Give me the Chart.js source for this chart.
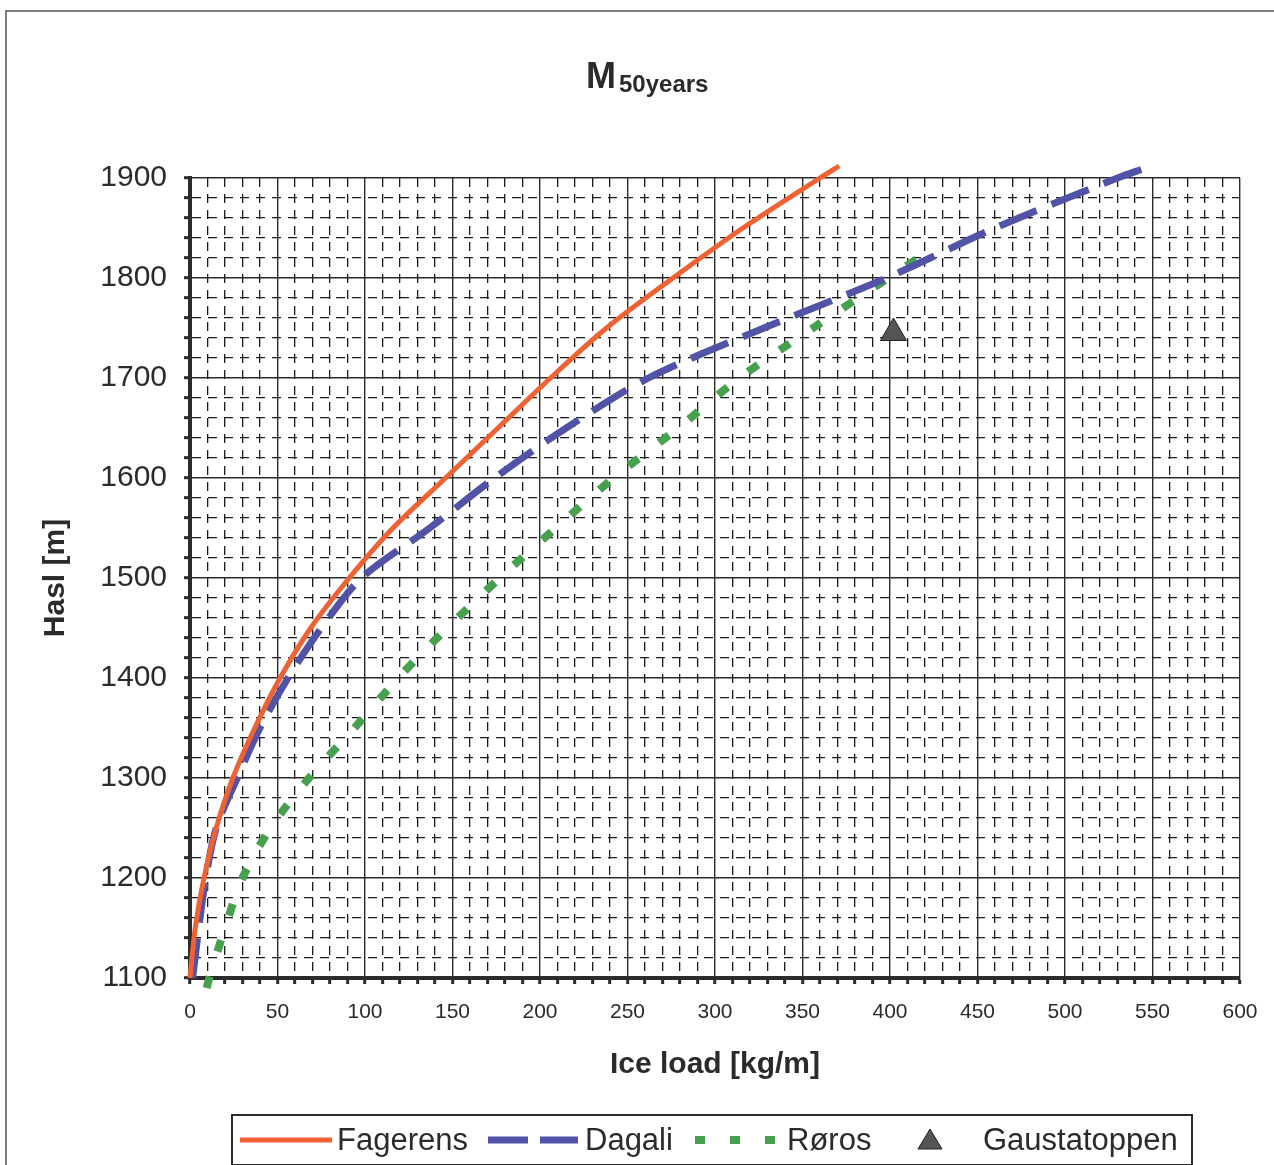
<!DOCTYPE html>
<html>
<head>
<meta charset="utf-8">
<title>M50years</title>
<script src="https://cdn.jsdelivr.net/npm/chart.js@4/dist/chart.umd.min.js"></script>
<style>
	html, body { margin: 0; padding: 0; background: #fff; }
	#wrap { width: 1274px; height: 1165px; }
</style>
</head>
<body>
<div id="wrap"><canvas id="chart" width="1274" height="1165"></canvas></div>
<script>
// values (ice load kg/m vs height m)
var haslFagerens = [1100, 1150, 1200, 1250, 1300, 1350, 1400, 1450, 1500, 1550, 1600, 1650, 1700, 1750, 1800, 1850, 1900, 1912];
var loadFagerens = [0, 3, 8, 15, 24.5, 37, 51.5, 69, 91, 116, 146, 176, 206, 238, 276, 316, 360, 371];

var haslDagali = [1100, 1150, 1200, 1250, 1300, 1350, 1400, 1450, 1500, 1550, 1600, 1650, 1700, 1750, 1800, 1850, 1900, 1910];
var loadDagali = [1.5, 5, 9, 15, 27, 40, 56, 75, 98, 137, 174, 215, 262, 328, 398, 460, 530, 546];

var haslRoros = [1090, 1100, 1150, 1200, 1250, 1300, 1350, 1400, 1450, 1500, 1550, 1600, 1650, 1700, 1750, 1800, 1821];
var loadRoros = [9.5, 11, 20, 30, 46, 68, 94, 119, 147, 177, 209, 242, 279, 314, 356, 399, 417];

var haslGausta = [1745];
var loadGausta = [402];

var xTicks = [0, 50, 100, 150, 200, 250, 300, 350, 400, 450, 500, 550, 600];
var yTicks = [1100, 1200, 1300, 1400, 1500, 1600, 1700, 1800, 1900];

var FONT = '"Liberation Sans", Arial, sans-serif';
var ORANGE = '#ee6234';
var BLUE = '#5252a6';
var GREEN = '#46a04e';
var INK = '#2b2b2b';

function toPoints(xs, ys) {
	var pts = [];
	for (var i = 0; i < xs.length; i++) {
		pts.push({ x: xs[i], y: ys[i] });
	}
	return pts;
}

function isMajor(ctx, step) {
	return ctx.tick && ctx.tick.value % step === 0;
}

// title, page frame and boxed legend are drawn by hand
var decorPlugin = {
	id: 'decor',
	afterDraw: function (chart) {
		var ctx = chart.ctx;
		ctx.save();

		// scan frame
		ctx.strokeStyle = '#555';
		ctx.lineWidth = 1.5;
		ctx.beginPath();
		ctx.moveTo(6, 1165);
		ctx.lineTo(6, 11);
		ctx.lineTo(1274, 11);
		ctx.stroke();

		// title M with subscript
		ctx.fillStyle = INK;
		ctx.textBaseline = 'alphabetic';
		ctx.textAlign = 'left';
		ctx.font = 'bold 36px ' + FONT;
		ctx.fillText('M', 586, 88);
		ctx.font = 'bold 24px ' + FONT;
		ctx.fillText('50years', 619, 92);

		// legend box
		ctx.lineWidth = 2;
		ctx.strokeStyle = INK;
		ctx.strokeRect(232, 1115, 960, 50);

		var ly = 1140;
		ctx.lineCap = 'butt';

		ctx.strokeStyle = ORANGE;
		ctx.lineWidth = 5;
		ctx.setLineDash([]);
		ctx.beginPath(); ctx.moveTo(240, ly); ctx.lineTo(332, ly); ctx.stroke();

		ctx.strokeStyle = BLUE;
		ctx.lineWidth = 7;
		ctx.setLineDash([40, 12]);
		ctx.beginPath(); ctx.moveTo(488, ly); ctx.lineTo(578, ly); ctx.stroke();

		ctx.strokeStyle = GREEN;
		ctx.lineWidth = 8;
		ctx.setLineDash([10, 25]);
		ctx.beginPath(); ctx.moveTo(695, ly); ctx.lineTo(776, ly); ctx.stroke();
		ctx.setLineDash([]);

		ctx.fillStyle = '#555';
		ctx.strokeStyle = '#222';
		ctx.lineWidth = 1;
		ctx.beginPath();
		ctx.moveTo(930, ly - 11);
		ctx.lineTo(942, ly + 9);
		ctx.lineTo(918, ly + 9);
		ctx.closePath();
		ctx.fill();
		ctx.stroke();

		ctx.fillStyle = INK;
		ctx.font = '31px ' + FONT;
		ctx.textBaseline = 'middle';
		ctx.fillText('Fagerens', 337, ly + 1);
		ctx.fillText('Dagali', 585, ly + 1);
		ctx.fillText('Røros', 787, ly + 1);
		ctx.fillText('Gaustatoppen', 983, ly + 1);

		ctx.restore();
	}
};

var chart = new Chart(document.getElementById('chart'), {
	type: 'scatter',
	data: {
		datasets: [{
			label: 'Fagerens',
			data: toPoints(loadFagerens, haslFagerens),
			showLine: true,
			borderColor: ORANGE,
			borderWidth: 5,
			pointRadius: 0,
			tension: 0.3,
			clip: false
		}, {
			label: 'Dagali',
			data: toPoints(loadDagali, haslDagali),
			showLine: true,
			borderColor: BLUE,
			borderWidth: 7,
			borderDash: [40, 16],
			borderCapStyle: 'butt',
			pointRadius: 0,
			tension: 0.3,
			clip: false
		}, {
			label: 'Røros',
			data: toPoints(loadRoros, haslRoros),
			showLine: true,
			borderColor: GREEN,
			borderWidth: 8,
			borderDash: [12, 26],
			borderCapStyle: 'butt',
			pointRadius: 0,
			tension: 0.3,
			clip: false
		}, {
			label: 'Gaustatoppen',
			data: toPoints(loadGausta, haslGausta),
			showLine: false,
			pointStyle: 'triangle',
			pointRadius: 15,
			backgroundColor: '#555',
			borderColor: '#222',
			borderWidth: 1,
			clip: false
		}]
	},
	options: {
		responsive: false,
		animation: false,
		layout: { padding: { top: 178, right: 34, bottom: 84, left: 0 } },
		plugins: {
			legend: { display: false },
			title: { display: false },
			tooltip: { enabled: false }
		},
		scales: {
			x: {
				type: 'linear',
				min: 0,
				max: 600,
				afterFit: function (scale) { scale.height = 103; },
				ticks: {
					stepSize: 10,
					autoSkip: false,
					maxRotation: 0,
					padding: 16,
					color: INK,
					font: { family: FONT, size: 21 },
					callback: function (v) { return xTicks.indexOf(v) >= 0 ? String(v) : ''; }
				},
				grid: {
					color: function (ctx) { return isMajor(ctx, 50) ? INK : '#1a1a1a'; },
					lineWidth: function (ctx) { return isMajor(ctx, 50) ? 1.4 : 1.3; },
					tickLength: 6,
					tickWidth: 3,
					tickColor: INK
				},
				border: {
					color: INK,
					width: 4,
					dash: function (ctx) { return ctx.tick && !isMajor(ctx, 50) ? [9, 7] : []; }
				},
				title: {
					display: true,
					text: 'Ice load [kg/m]',
					color: INK,
					font: { family: FONT, size: 30, weight: 'bold', lineHeight: 1 },
					padding: { top: 0, bottom: 1 }
				}
			},
			y: {
				type: 'linear',
				min: 1100,
				max: 1900,
				afterFit: function (scale) { scale.width = 190; },
				ticks: {
					stepSize: 20,
					autoSkip: false,
					padding: 17,
					color: INK,
					font: { family: FONT, size: 30 },
					callback: function (v) { return yTicks.indexOf(v) >= 0 ? String(v) : ''; }
				},
				grid: {
					color: function (ctx) { return isMajor(ctx, 100) ? INK : '#1a1a1a'; },
					lineWidth: function (ctx) { return isMajor(ctx, 100) ? 1.4 : 1.3; },
					tickLength: 6,
					tickWidth: 3,
					tickColor: INK
				},
				border: {
					color: INK,
					width: 4,
					dash: function (ctx) { return ctx.tick && !isMajor(ctx, 100) ? [9, 7] : []; }
				},
				title: {
					display: true,
					text: 'Hasl [m]',
					color: INK,
					font: { family: FONT, size: 30, weight: 'bold', lineHeight: 1 },
					padding: { top: 41, bottom: 0 }
				}
			}
		}
	},
	plugins: [decorPlugin]
});
</script>
</body>
</html>
